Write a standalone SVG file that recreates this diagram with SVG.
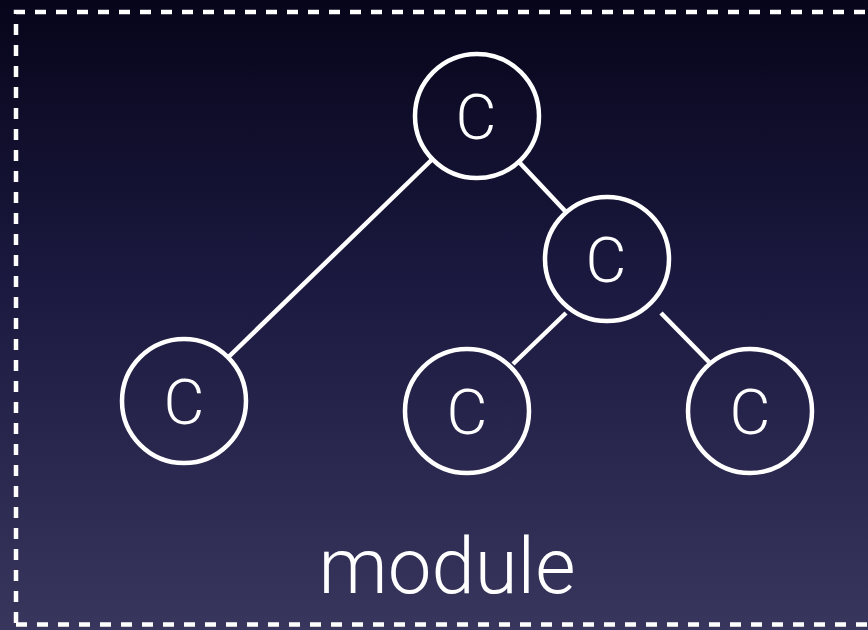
<svg xmlns="http://www.w3.org/2000/svg" width="868" height="630" viewBox="0 0 868 630">
  <defs>
    <linearGradient id="bg" x1="0" y1="0" x2="0" y2="1">
      <stop offset="0" stop-color="#07051a"/>
      <stop offset="0.45" stop-color="#1b193f"/>
      <stop offset="1" stop-color="#38365c"/>
    </linearGradient>
  </defs>
  <style>
    .frame { fill: none; stroke: #ffffff; stroke-width: 4.5; stroke-dasharray: 11 10; }
    .node circle { fill: none; stroke: #ffffff; stroke-width: 4.5; }
    .node text { fill: #ffffff; font-family: Roboto, "Liberation Sans", sans-serif; font-weight: 300; font-size: 63px; text-anchor: middle; }
    .edges line { stroke: #ffffff; stroke-width: 4.5; }
    .label { fill: #ffffff; font-family: Roboto, "Liberation Sans", sans-serif; font-weight: 300; font-size: 78px; text-anchor: middle; }
  </style>

  <rect width="868" height="630" fill="url(#bg)"/>

  <!-- module boundary -->
  <path class="frame" d="M16 623 V12 H880 M16 624.5 H880"/>

  <g class="edges">
    <line x1="432.5" y1="159" x2="228.5" y2="357"/>
    <line x1="519" y1="162" x2="566" y2="212"/>
    <line x1="566" y1="313" x2="513" y2="364"/>
    <line x1="661" y1="313" x2="709" y2="362"/>
  </g>

  <g id="c-root" class="node">
    <circle cx="477" cy="116" r="62"/>
    <text x="476" y="139">C</text>
  </g>
  <g id="c-mid" class="node">
    <circle cx="607" cy="259" r="62"/>
    <text x="606" y="282">C</text>
  </g>
  <g id="c-left" class="node">
    <circle cx="184" cy="401" r="62"/>
    <text x="184" y="424">C</text>
  </g>
  <g id="c-bottom-mid" class="node">
    <circle cx="467" cy="411" r="62"/>
    <text x="467" y="434">C</text>
  </g>
  <g id="c-bottom-right" class="node">
    <circle cx="750" cy="411" r="62"/>
    <text x="750" y="434">C</text>
  </g>

  <text class="label" x="447" y="593">module</text>
</svg>
